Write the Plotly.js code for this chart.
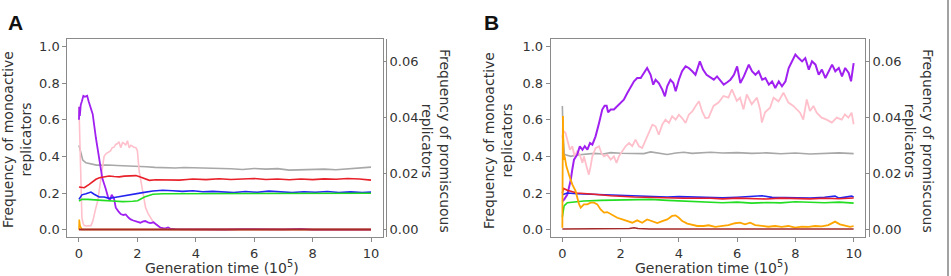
<!DOCTYPE html>
<html>
<head>
<meta charset="utf-8">
<script src="https://cdn.plot.ly/plotly-3.0.1.min.js"></script>
<style>
  html, body { margin: 0; padding: 0; background: #fff; }
  #chart { width: 951px; height: 276px; }
</style>
</head>
<body>
<div id="chart"></div>
<script>
// Tick values shared by both panels
const ticksGen = [0, 2, 4, 6, 8, 10];
const ticksMono = [0, 0.2, 0.4, 0.6, 0.8, 1.0];
const ticksProm = [0, 0.02, 0.04, 0.06];

// Series colours
const colPurple = "#A020F0";
const colPink = "#FFC0CB";
const colGray = "#A8A8A8";
const colRed = "#E8202A";
const colBlue = "#2424F0";
const colGreen = "#22DD22";
const colOrange = "#FFA500";
const colBrown = "#A52A2A";

// ---- Panel A (generation time in units of 1e5) ----
const aGrayT = [0, 0.03, 0.08, 0.13, 0.24, 0.35, 0.47, 0.6, 0.8, 1.0, 1.3, 1.6, 2.0, 2.3, 2.6, 3.0, 3.3, 3.6, 4.0, 4.4, 4.8, 5.2, 5.6, 6.0, 6.4, 6.8, 7.2, 7.6, 8.0, 8.4, 8.8, 9.2, 9.6, 10.0];
const aGrayY = [0.46, 0.44, 0.4, 0.38, 0.365, 0.36, 0.356, 0.352, 0.352, 0.353, 0.35, 0.349, 0.347, 0.343, 0.34, 0.338, 0.336, 0.339, 0.338, 0.335, 0.337, 0.332, 0.328, 0.334, 0.33, 0.333, 0.325, 0.327, 0.326, 0.33, 0.327, 0.331, 0.333, 0.341];

const aRedT = [0, 0.18, 0.35, 0.47, 0.58, 0.7, 0.8, 1.03, 1.2, 1.38, 1.55, 1.73, 1.95, 2.1, 2.25, 2.41, 2.64, 2.98, 3.2, 3.44, 3.7, 3.9, 4.35, 4.8, 5.2, 5.6, 6.0, 6.4, 6.8, 7.2, 7.6, 8.0, 8.4, 8.8, 9.2, 9.6, 10.0];
const aRedY = [0.233, 0.229, 0.247, 0.262, 0.275, 0.283, 0.287, 0.293, 0.29, 0.288, 0.292, 0.293, 0.295, 0.287, 0.277, 0.269, 0.272, 0.271, 0.268, 0.27, 0.274, 0.276, 0.273, 0.278, 0.274, 0.276, 0.279, 0.274, 0.276, 0.272, 0.276, 0.273, 0.277, 0.275, 0.279, 0.276, 0.27];

const aBlueT = [0, 0.1, 0.24, 0.41, 0.52, 0.69, 0.86, 1.03, 1.26, 1.49, 1.84, 2.18, 2.53, 2.87, 3.21, 3.55, 3.9, 4.24, 4.58, 4.92, 5.3, 5.7, 6.1, 6.5, 6.9, 7.3, 7.7, 8.1, 8.5, 8.9, 9.3, 9.7, 10.0];
const aBlueY = [0.165, 0.19, 0.196, 0.205, 0.193, 0.178, 0.178, 0.171, 0.177, 0.184, 0.193, 0.202, 0.211, 0.215, 0.212, 0.209, 0.212, 0.207, 0.209, 0.206, 0.203, 0.208, 0.204, 0.21, 0.205, 0.203, 0.207, 0.204, 0.208, 0.203, 0.206, 0.202, 0.205];

const aGreenT = [0, 0.1, 0.3, 0.5, 0.8, 1.15, 1.49, 1.84, 2.01, 2.24, 2.53, 2.87, 3.33, 3.78, 4.35, 4.92, 5.4, 5.9, 6.4, 6.9, 7.4, 7.9, 8.4, 8.9, 9.4, 10.0];
const aGreenY = [0.156, 0.165, 0.165, 0.164, 0.16, 0.156, 0.153, 0.155, 0.158, 0.178, 0.193, 0.196, 0.196, 0.197, 0.199, 0.2, 0.198, 0.2, 0.197, 0.2, 0.198, 0.2, 0.199, 0.197, 0.2, 0.199];

const aPinkT = [0, 0.01, 0.04, 0.07, 0.1, 0.14, 0.18, 0.25, 0.32, 0.41, 0.47, 0.52, 0.58, 0.64, 0.7, 0.75, 0.81, 0.86, 0.93, 1.0, 1.08, 1.14, 1.2, 1.26, 1.32, 1.37, 1.43, 1.49, 1.55, 1.6, 1.66, 1.72, 1.78, 1.83, 1.88, 1.95, 2.0, 2.06, 2.12, 2.17, 2.23, 2.28, 2.36, 2.45, 2.53, 2.62, 2.7, 2.79, 2.88, 2.96, 3.1, 3.5, 10.0];
const aPinkY = [0.67, 0.6, 0.35, 0.15, 0.065, 0.035, 0.022, 0.02, 0.02, 0.022, 0.045, 0.084, 0.12, 0.156, 0.22, 0.285, 0.356, 0.4, 0.415, 0.42, 0.43, 0.447, 0.45, 0.465, 0.47, 0.48, 0.447, 0.475, 0.47, 0.46, 0.485, 0.447, 0.46, 0.456, 0.45, 0.447, 0.43, 0.32, 0.26, 0.21, 0.16, 0.12, 0.09, 0.065, 0.045, 0.03, 0.02, 0.011, 0.006, 0.002, 0.001, 0, 0];

const aPurpleT = [0, 0.01, 0.03, 0.06, 0.1, 0.15, 0.2, 0.28, 0.33, 0.4, 0.47, 0.58, 0.69, 0.8, 0.92, 1.0, 1.06, 1.12, 1.2, 1.26, 1.35, 1.43, 1.52, 1.6, 1.7, 1.77, 1.86, 1.94, 2.02, 2.1, 2.2, 2.27, 2.36, 2.45, 2.55, 2.62, 2.7, 2.79, 2.88, 2.96, 3.05, 3.15, 3.3, 3.6, 4.0, 4.5, 5.0, 5.5, 6.0, 6.5, 7.0, 7.6, 8.0, 9.0, 10.0];
const aPurpleY = [0.6, 0.67, 0.62, 0.68, 0.7, 0.73, 0.725, 0.73, 0.7, 0.67, 0.63, 0.5, 0.39, 0.28, 0.22, 0.175, 0.16, 0.19, 0.17, 0.12, 0.1, 0.085, 0.08, 0.083, 0.065, 0.056, 0.05, 0.047, 0.042, 0.038, 0.045, 0.047, 0.04, 0.036, 0.04, 0.03, 0.02, 0.011, 0.008, 0.007, 0.012, 0.004, 0.003, 0.002, 0.004, 0.002, 0.001, 0.003, 0.002, 0.001, 0.002, 0.004, 0.0, 0.0, 0.0];

const aOrangeT = [0, 0.01, 0.02, 0.04, 0.07, 0.1, 10.0];
const aOrangeY = [0, 0.055, 0.04, 0.02, 0.005, 0.001, 0.001];

const aBrownT = [0, 2.5, 5.0, 7.5, 10.0];
const aBrownY = [0.001, 0.001, 0.001, 0.001, 0.001];

// ---- Panel B ----
const bGrayT = [0, 0.01, 0.03, 0.07, 0.29, 0.51, 0.74, 1.09, 1.4, 1.66, 2.0, 2.46, 2.8, 3.03, 3.3, 3.6, 3.9, 4.17, 4.45, 4.74, 5.09, 5.5, 6.0, 6.5, 7.0, 7.5, 8.0, 8.5, 9.0, 9.5, 10.0];
const bGrayY = [0.675, 0.6, 0.5, 0.41, 0.4, 0.407, 0.41, 0.416, 0.413, 0.42, 0.417, 0.418, 0.415, 0.424, 0.418, 0.41, 0.418, 0.422, 0.416, 0.42, 0.422, 0.418, 0.42, 0.416, 0.419, 0.414, 0.418, 0.413, 0.416, 0.419, 0.415];

const bPinkT = [0, 0.03, 0.06, 0.11, 0.17, 0.26, 0.34, 0.42, 0.51, 0.6, 0.69, 0.74, 0.83, 0.91, 0.97, 1.03, 1.14, 1.26, 1.34, 1.43, 1.54, 1.66, 1.77, 1.86, 1.94, 2.06, 2.17, 2.29, 2.4, 2.51, 2.63, 2.74, 2.86, 2.97, 3.09, 3.2, 3.31, 3.43, 3.54, 3.66, 3.77, 3.89, 4.0, 4.11, 4.23, 4.34, 4.46, 4.57, 4.69, 4.8, 4.91, 5.02, 5.19, 5.36, 5.53, 5.7, 5.82, 5.99, 6.1, 6.22, 6.33, 6.5, 6.68, 6.79, 6.85, 6.96, 7.13, 7.25, 7.42, 7.59, 7.76, 7.93, 8.05, 8.16, 8.27, 8.39, 8.5, 8.62, 8.73, 8.9, 9.07, 9.25, 9.42, 9.59, 9.7, 9.82, 9.93, 10.0];
const bPinkY = [0.5, 0.54, 0.536, 0.527, 0.491, 0.436, 0.455, 0.4, 0.427, 0.409, 0.364, 0.4, 0.345, 0.3, 0.345, 0.4, 0.445, 0.455, 0.418, 0.4, 0.409, 0.382, 0.4, 0.364, 0.4, 0.427, 0.455, 0.473, 0.455, 0.491, 0.455, 0.445, 0.491, 0.527, 0.573, 0.564, 0.518, 0.573, 0.6, 0.582, 0.618, 0.6, 0.627, 0.609, 0.582, 0.627, 0.645, 0.673, 0.7, 0.645, 0.609, 0.611, 0.675, 0.693, 0.729, 0.72, 0.765, 0.702, 0.72, 0.656, 0.738, 0.684, 0.72, 0.656, 0.584, 0.64, 0.665, 0.72, 0.7, 0.747, 0.693, 0.675, 0.656, 0.638, 0.6, 0.71, 0.647, 0.675, 0.638, 0.611, 0.6, 0.584, 0.611, 0.6, 0.629, 0.611, 0.638, 0.575];

const bPurpleT = [0, 0.06, 0.17, 0.29, 0.34, 0.4, 0.51, 0.6, 0.69, 0.77, 0.86, 0.95, 1.03, 1.14, 1.26, 1.37, 1.45, 1.52, 1.57, 1.66, 1.77, 1.89, 2.0, 2.11, 2.23, 2.34, 2.46, 2.57, 2.69, 2.8, 2.91, 3.03, 3.12, 3.2, 3.31, 3.43, 3.52, 3.6, 3.71, 3.81, 3.89, 4.0, 4.11, 4.23, 4.34, 4.46, 4.57, 4.72, 4.83, 4.95, 5.09, 5.2, 5.31, 5.43, 5.54, 5.66, 5.77, 5.89, 6.0, 6.11, 6.23, 6.4, 6.51, 6.63, 6.74, 6.86, 6.97, 7.09, 7.2, 7.31, 7.43, 7.54, 7.66, 7.77, 7.89, 8.0, 8.11, 8.23, 8.34, 8.46, 8.57, 8.69, 8.8, 8.91, 9.03, 9.14, 9.26, 9.37, 9.49, 9.6, 9.71, 9.83, 9.91, 10.0];
const bPurpleY = [0.155, 0.164, 0.191, 0.273, 0.327, 0.382, 0.409, 0.455, 0.436, 0.455, 0.436, 0.473, 0.464, 0.509, 0.582, 0.655, 0.676, 0.676, 0.64, 0.655, 0.655, 0.673, 0.691, 0.709, 0.745, 0.773, 0.809, 0.827, 0.827, 0.855, 0.882, 0.845, 0.791, 0.818, 0.8, 0.764, 0.727, 0.782, 0.818, 0.8, 0.755, 0.818, 0.864, 0.891, 0.882, 0.864, 0.845, 0.918, 0.873, 0.845, 0.827, 0.818, 0.836, 0.809, 0.791, 0.804, 0.818, 0.845, 0.891, 0.8, 0.836, 0.9, 0.864, 0.845, 0.864, 0.818, 0.827, 0.791, 0.809, 0.773, 0.809, 0.782, 0.809, 0.882, 0.918, 0.955, 0.936, 0.918, 0.936, 0.873, 0.918, 0.9, 0.845, 0.873, 0.827, 0.864, 0.9, 0.864, 0.882, 0.836, 0.882, 0.855, 0.809, 0.909];

const bBlueT = [0, 0.04, 0.17, 0.5, 1.09, 1.66, 2.46, 3.03, 3.6, 4.0, 4.63, 5.09, 5.5, 6.0, 6.85, 7.2, 7.6, 8.0, 8.5, 9.0, 9.36, 9.5, 9.93, 10.0];
const bBlueY = [0.19, 0.193, 0.2, 0.196, 0.193, 0.187, 0.182, 0.182, 0.178, 0.18, 0.178, 0.176, 0.174, 0.177, 0.185, 0.176, 0.175, 0.178, 0.173, 0.177, 0.183, 0.172, 0.183, 0.178];

const bRedT = [0, 0.04, 0.17, 0.5, 1.09, 1.66, 2.46, 3.03, 3.5, 4.17, 5.09, 5.5, 6.0, 6.5, 7.0, 7.5, 8.0, 8.5, 9.0, 9.5, 10.0];
const bRedY = [0.2, 0.225, 0.215, 0.2, 0.193, 0.185, 0.178, 0.175, 0.173, 0.171, 0.171, 0.168, 0.172, 0.17, 0.167, 0.172, 0.17, 0.168, 0.171, 0.169, 0.173];

const bGreenT = [0, 0.02, 0.06, 0.17, 0.34, 0.74, 1.31, 1.89, 2.46, 3.03, 3.6, 4.17, 4.74, 5.09, 5.5, 6.0, 6.5, 7.0, 7.5, 8.0, 8.5, 9.0, 9.5, 10.0];
const bGreenY = [0.07, 0.084, 0.13, 0.147, 0.15, 0.156, 0.16, 0.162, 0.162, 0.165, 0.16, 0.156, 0.151, 0.152, 0.147, 0.15, 0.145, 0.148, 0.146, 0.152, 0.149, 0.147, 0.15, 0.145];

const bOrangeT = [0, 0.02, 0.04, 0.056, 0.09, 0.136, 0.228, 0.34, 0.456, 0.57, 0.63, 0.74, 0.856, 0.97, 1.085, 1.2, 1.313, 1.43, 1.54, 1.66, 1.77, 1.885, 2.06, 2.23, 2.4, 2.57, 2.74, 2.91, 3.09, 3.26, 3.43, 3.6, 3.77, 3.885, 4.0, 4.115, 4.29, 4.46, 4.63, 4.86, 5.02, 5.25, 5.47, 5.7, 5.93, 6.1, 6.27, 6.45, 6.62, 6.85, 7.07, 7.3, 7.53, 7.76, 7.99, 8.22, 8.45, 8.68, 8.9, 9.13, 9.36, 9.53, 9.7, 9.88, 10.0];
const bOrangeY = [0.01, 0.62, 0.38, 0.41, 0.39, 0.347, 0.3, 0.247, 0.21, 0.14, 0.12, 0.138, 0.138, 0.147, 0.147, 0.138, 0.11, 0.093, 0.096, 0.084, 0.075, 0.065, 0.056, 0.047, 0.038, 0.051, 0.038, 0.056, 0.047, 0.036, 0.047, 0.056, 0.075, 0.078, 0.065, 0.047, 0.033, 0.025, 0.02, 0.02, 0.024, 0.015, 0.02, 0.025, 0.035, 0.038, 0.029, 0.038, 0.025, 0.02, 0.016, 0.02, 0.015, 0.02, 0.011, 0.016, 0.015, 0.02, 0.018, 0.025, 0.044, 0.029, 0.024, 0.015, 0.02];

const bBrownT = [0, 1.0, 2.0, 2.3, 2.46, 2.6, 3.0, 4.0, 5.0, 6.0, 7.0, 8.0, 9.0, 10.0];
const bBrownY = [0.004, 0.004, 0.004, 0.006, 0.01, 0.006, 0.004, 0.004, 0.004, 0.004, 0.004, 0.004, 0.004, 0.004];

// ---- Traces ----
function line(t, y, color, width, xa, ya) {
  return { x: t, y: y, type: "scatter", mode: "lines", xaxis: xa, yaxis: ya,
           line: { color: color, width: width }, hoverinfo: "skip" };
}

const panelA = [
  [aGrayT, aGrayY, colGray, 1.6], [aPinkT, aPinkY, colPink, 1.6], [aPurpleT, aPurpleY, colPurple, 1.8],
  [aBlueT, aBlueY, colBlue, 1.6], [aRedT, aRedY, colRed, 1.6], [aGreenT, aGreenY, colGreen, 1.6],
  [aOrangeT, aOrangeY, colOrange, 1.6], [aBrownT, aBrownY, colBrown, 1.8]
];
const panelB = [
  [bGrayT, bGrayY, colGray, 1.6], [bPinkT, bPinkY, colPink, 1.8], [bPurpleT, bPurpleY, colPurple, 2.0],
  [bBlueT, bBlueY, colBlue, 1.6], [bRedT, bRedY, colRed, 1.6], [bGreenT, bGreenY, colGreen, 1.6],
  [bOrangeT, bOrangeY, colOrange, 1.8], [bBrownT, bBrownY, colBrown, 1.6]
];

const traces = [];
panelA.forEach(s => traces.push(line(s[0], s[1], s[2], s[3], "x", "y")));
panelB.forEach(s => traces.push(line(s[0], s[1], s[2], s[3], "x2", "y3")));
// invisible traces so the promiscuous-replicator axes render
traces.push({ x: [0], y: [0], xaxis: "x", yaxis: "y2", mode: "markers", marker: { opacity: 0 }, hoverinfo: "skip" });
traces.push({ x: [0], y: [0], xaxis: "x2", yaxis: "y4", mode: "markers", marker: { opacity: 0 }, hoverinfo: "skip" });

// ---- Layout geometry (pixels -> paper fractions) ----
const W = 951, H = 276;
const px = v => v / W;
const py = v => 1 - v / H;
const frameCol = "#8a8a8a";
const tickFont = { family: "DejaVu Sans", size: 13, color: "#333" };
const titleFont = { family: "DejaVu Sans", size: 14, color: "#333" };
const monoRange = [-0.04, 1.04];
const promScale = 0.0655;
const promRange = [monoRange[0] * promScale, monoRange[1] * promScale];

function xAxis(domain, anchor) {
  return { domain: domain, anchor: anchor, range: [-0.4, 10.4], tickvals: ticksGen,
           ticks: "outside", ticklen: 4, tickcolor: frameCol, showline: true, linecolor: frameCol,
           linewidth: 1, mirror: true, showgrid: false, zeroline: false, tickfont: tickFont, fixedrange: true };
}
function monoAxis(anchor) {
  return { domain: [py(237), py(39)], anchor: anchor, range: monoRange, tickvals: ticksMono,
           tickformat: ".1f", ticks: "outside", ticklen: 4, tickcolor: frameCol, showline: true,
           linecolor: frameCol, linewidth: 1, mirror: true, showgrid: false, zeroline: false,
           tickfont: tickFont, fixedrange: true };
}
function promAxis(over, pos) {
  return { overlaying: over, side: "right", anchor: "free", position: pos, range: promRange,
           tickvals: ticksProm, tickformat: ".2f", ticks: "inside", ticklen: 3, tickcolor: frameCol,
           showline: true, linecolor: frameCol, linewidth: 1, showgrid: false, zeroline: false,
           tickfont: tickFont, fixedrange: true };
}

const layout = {
  width: W, height: H,
  margin: { l: 0, r: 0, t: 0, b: 0 },
  paper_bgcolor: "#fff", plot_bgcolor: "#fff",
  showlegend: false,
  xaxis: xAxis([px(67.3), px(382.7)], "y"),
  yaxis: monoAxis("x"),
  yaxis2: promAxis("y", px(386)),
  xaxis2: xAxis([px(550.7), px(865.3)], "y3"),
  yaxis3: monoAxis("x2"),
  yaxis4: promAxis("y3", px(869)),
  annotations: [
    { text: "<b>A</b>", x: px(6), y: py(22), xref: "paper", yref: "paper", xanchor: "left", yanchor: "middle",
      showarrow: false, font: { family: "Liberation Sans", size: 21, color: "#111" } },
    { text: "<b>B</b>", x: px(482), y: py(22), xref: "paper", yref: "paper", xanchor: "left", yanchor: "middle",
      showarrow: false, font: { family: "Liberation Sans", size: 21, color: "#111" } },
    { text: "Frequency of monoactive<br>replicators", x: px(17), y: py(140), xref: "paper", yref: "paper",
      xanchor: "center", yanchor: "middle", textangle: -90, showarrow: false, font: titleFont },
    { text: "Frequency of monoactive<br>replicators", x: px(498), y: py(140), xref: "paper", yref: "paper",
      xanchor: "center", yanchor: "middle", textangle: -90, showarrow: false, font: titleFont },
    { text: "Frequency of promiscuous<br>replicators", x: px(436), y: py(141), xref: "paper", yref: "paper",
      xanchor: "center", yanchor: "middle", textangle: 90, showarrow: false, font: titleFont },
    { text: "Frequency of promiscuous<br>replicators", x: px(919), y: py(141), xref: "paper", yref: "paper",
      xanchor: "center", yanchor: "middle", textangle: 90, showarrow: false, font: titleFont },
    { text: "Generation time (10<sup>5</sup>)", x: px(222), y: py(267), xref: "paper", yref: "paper",
      xanchor: "center", yanchor: "middle", showarrow: false, font: titleFont },
    { text: "Generation time (10<sup>5</sup>)", x: px(712), y: py(267), xref: "paper", yref: "paper",
      xanchor: "center", yanchor: "middle", showarrow: false, font: titleFont }
  ],
  shapes: [
    { type: "line", xref: "paper", yref: "paper", x0: px(948), x1: px(948), y0: 0, y1: 1,
      line: { color: "#444", width: 1 } }
  ]
};

Plotly.newPlot("chart", traces, layout, { staticPlot: true, displayModeBar: false });
</script>
</body>
</html>
